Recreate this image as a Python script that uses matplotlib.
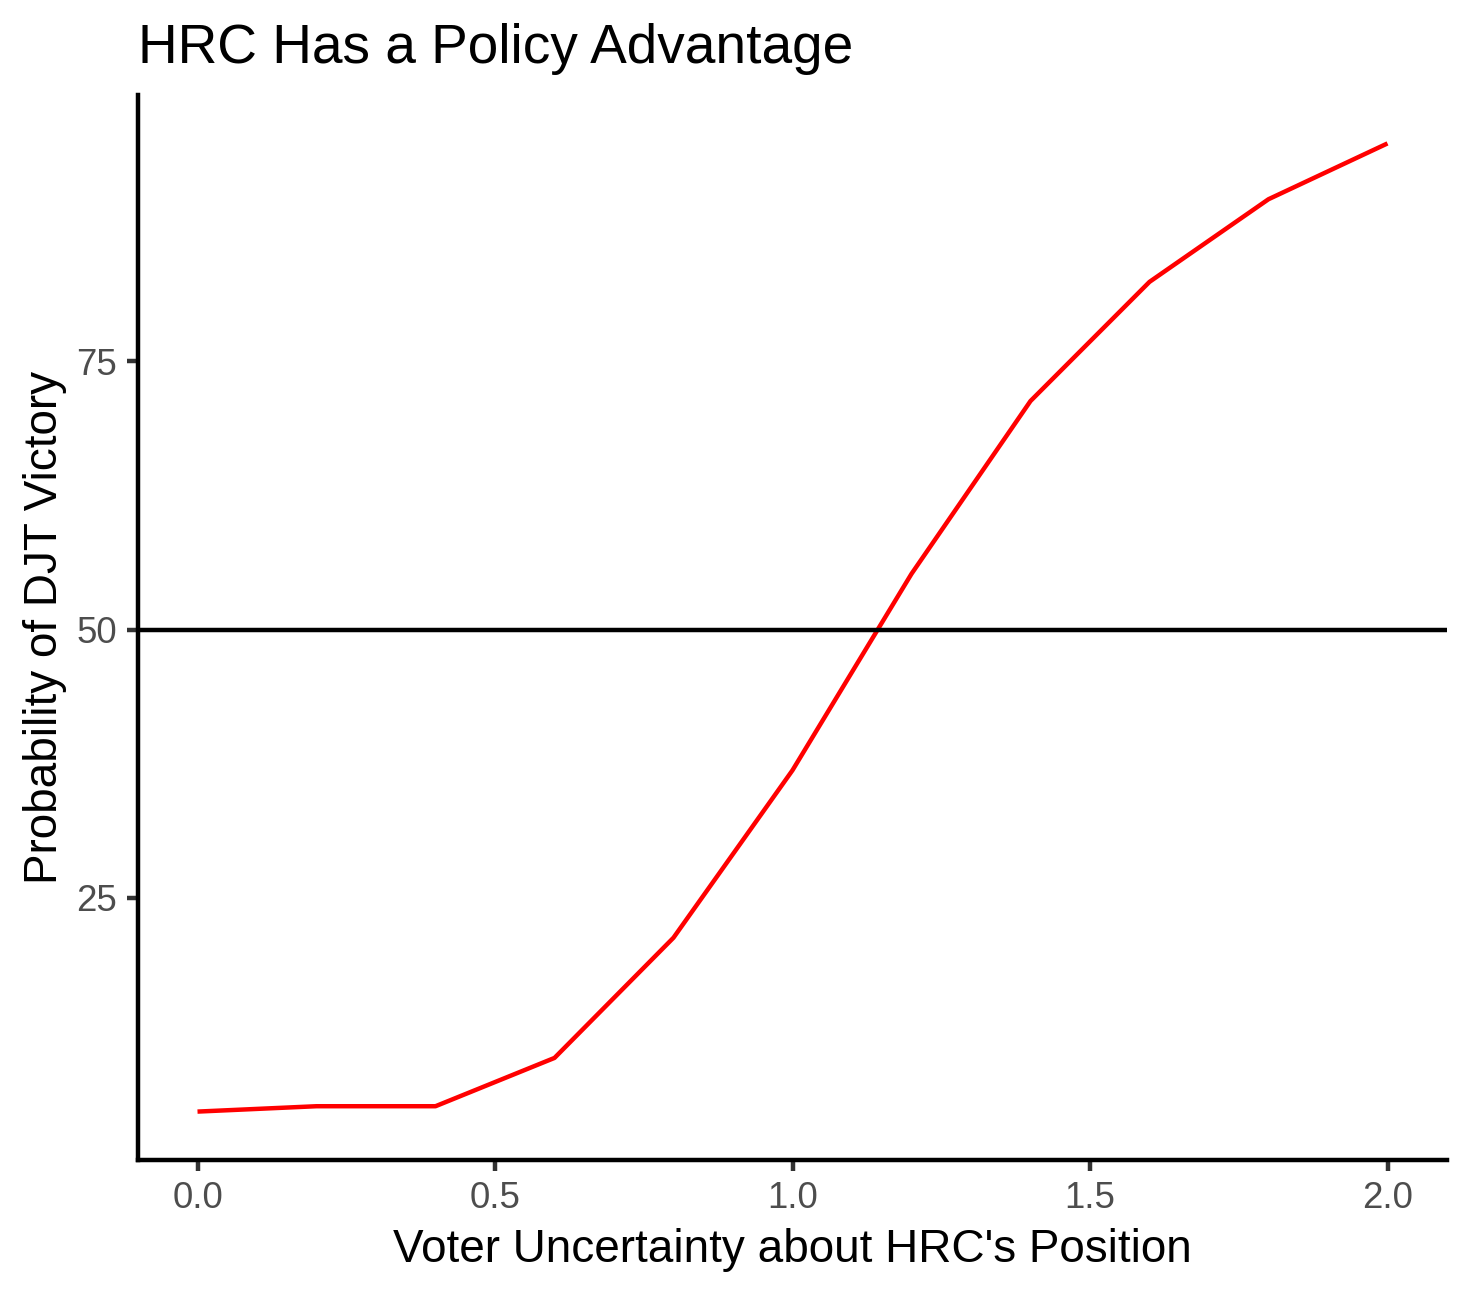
import numpy as np
import matplotlib.pyplot as plt

plt.rcParams['font.family'] = ['Liberation Sans', 'DejaVu Sans']

# values
uncertainty = [0.0, 0.2, 0.4, 0.6, 0.8, 1.0, 1.2, 1.4, 1.6, 1.8, 2.0]
prob_djt = [5.1, 5.6, 5.6, 10.1, 21.3, 36.9, 55.2, 71.3, 82.4, 90.1, 95.3]
x_ticks = [0.0, 0.5, 1.0, 1.5, 2.0]
x_tick_labels = ['0.0', '0.5', '1.0', '1.5', '2.0']
y_ticks = [25, 50, 75]
threshold = 50

line_w = 1.07  # ggplot linewidth 0.5
tick_grey = '#4D4D4D'

fig = plt.figure(figsize=(4.9, 1295 / 300), dpi=300)
ax = fig.add_axes([138 / 1470, 1 - 1160 / 1295, (1447 - 138) / 1470, (1160 - 95) / 1295])

ax.plot(uncertainty, prob_djt, color='#FF0000', linewidth=line_w, solid_capstyle='butt')
ax.axhline(threshold, color='black', linewidth=line_w)

# ggplot-style 5% expansion
xr = max(uncertainty) - min(uncertainty)
yr = max(prob_djt) - min(prob_djt)
ax.set_xlim(min(uncertainty) - 0.05 * xr, max(uncertainty) + 0.05 * xr)
ax.set_ylim(min(prob_djt) - 0.05 * yr, max(prob_djt) + 0.05 * yr)

ax.set_xticks(x_ticks)
ax.set_xticklabels(x_tick_labels)
ax.set_yticks(y_ticks)

for side in ['top', 'right']:
    ax.spines[side].set_visible(False)
for side in ['left', 'bottom']:
    ax.spines[side].set_linewidth(line_w)
    ax.spines[side].set_color('black')

ax.tick_params(axis='both', length=2.75, width=line_w, color='#333333',
               labelsize=8.8, labelcolor=tick_grey, pad=2.2)

ax.set_xlabel("Voter Uncertainty about HRC's Position", fontsize=11, labelpad=3)
ax.set_ylabel('Probability of DJT Victory', fontsize=11, labelpad=2.3)

fig.text(138 / 1470, 1 - 63 / 1295, 'HRC Has a Policy Advantage', fontsize=13.2,
         ha='left', va='baseline')

fig.savefig('out.png', dpi=300, facecolor='white')
